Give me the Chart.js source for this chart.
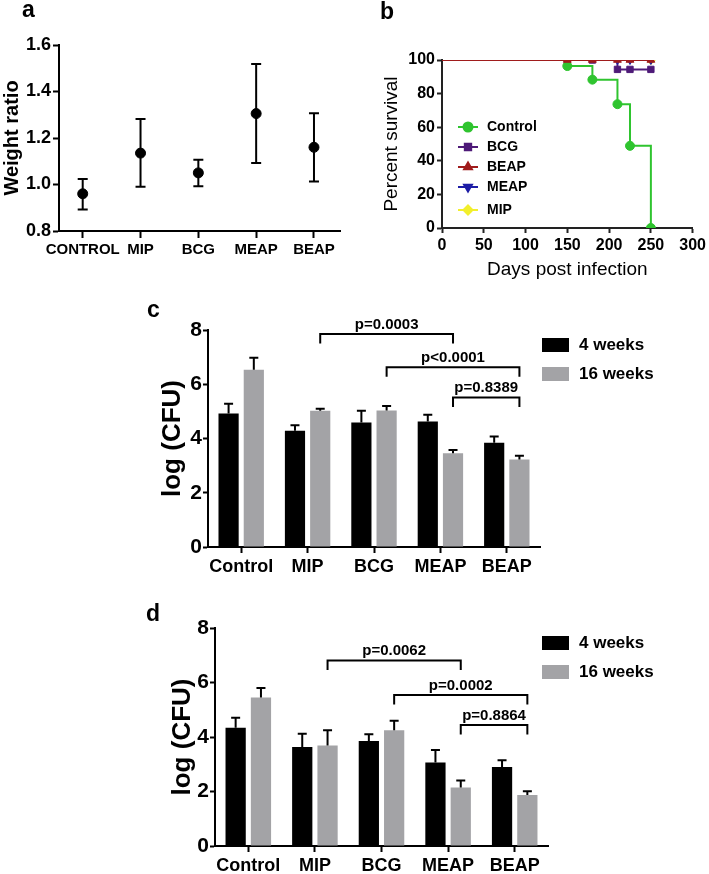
<!DOCTYPE html>
<html>
<head>
<meta charset="utf-8">
<script src="https://cdn.jsdelivr.net/npm/chart.js@4.4.1/dist/chart.umd.min.js"></script>
<style>
  body { margin: 0; background: #fff; }
  #wrap { position: relative; width: 709px; height: 874px; overflow: hidden;
          font-family: "Liberation Sans", Arial, Helvetica, sans-serif; }
  #wrap canvas { position: absolute; }
  .lbl { position: absolute; font-weight: bold; font-size: 23px; line-height: 23px; color: #000; }
</style>
</head>
<body>
<div id="wrap">
  <canvas id="weightChart" width="355" height="290" style="left:0;top:0"></canvas>
  <canvas id="survivalChart" width="349" height="290" style="left:360px;top:0"></canvas>
  <canvas id="cfuChartC" width="569" height="300" style="left:140px;top:290px"></canvas>
  <canvas id="cfuChartD" width="569" height="284" style="left:140px;top:590px"></canvas>
  <div class="lbl" style="left:22px;top:-2px">a</div>
  <div class="lbl" style="left:380px;top:0px">b</div>
  <div class="lbl" style="left:147px;top:298px">c</div>
  <div class="lbl" style="left:146px;top:602px">d</div>
</div>
<script>
Chart.defaults.font.family = '"Liberation Sans", Arial, Helvetica, sans-serif';
Chart.defaults.color = '#000';
Chart.defaults.animation = false;

// panel a data
const groupsA = ['CONTROL', 'MIP', 'BCG', 'MEAP', 'BEAP'];
const weightMean = [0.96, 1.135, 1.05, 1.305, 1.16];
const weightLow = [0.893, 0.99, 0.993, 1.093, 1.013];
const weightHigh = [1.024, 1.282, 1.106, 1.518, 1.306];

// panel b data
const controlDays = [0, 150, 180, 210, 225, 250];
const controlSurv = [100, 96.4, 88.3, 73.7, 48.9, 0];
const bcgDays = [0, 150, 180, 210, 225, 250];
const bcgSurv = [100, 100, 100, 94.4, 94.4, 94.4];
const beapDays = [0, 150, 180, 210, 225, 250];
const beapSurv = [100, 100, 100, 100, 100, 100];
const meapDays = [0, 210, 225, 250];
const meapSurv = [100, 100, 100, 100];
const mipDays = [0, 250];
const mipSurv = [100, 100];

// panels c and d data
const groupsCFU = ['Control', 'MIP', 'BCG', 'MEAP', 'BEAP'];
const weekLabels = ['4 weeks', '16 weeks'];
const cfu4wC = [4.92, 4.29, 4.59, 4.63, 3.84];
const cfu16wC = [6.53, 5.02, 5.03, 3.46, 3.23];
const sem4wC = [0.36, 0.20, 0.43, 0.25, 0.23];
const sem16wC = [0.45, 0.08, 0.17, 0.12, 0.13];
const pTextC = ['p=0.0003', 'p<0.0001', 'p=0.8389'];
const pFromC = [1, 2, 3];
const pToC = [3, 4, 4];
const pLevelC = [7.85, 6.63, 5.51];

const cfu4wD = [4.34, 3.63, 3.85, 3.06, 2.90];
const cfu16wD = [5.45, 3.69, 4.25, 2.15, 1.87];
const sem4wD = [0.37, 0.49, 0.25, 0.46, 0.25];
const sem16wD = [0.35, 0.56, 0.35, 0.25, 0.14];
const pTextD = ['p=0.0062', 'p=0.0002', 'p=0.8864'];
const pFromD = [1, 2, 3];
const pToD = [3, 4, 4];
const pLevelD = [6.81, 5.54, 4.44];

const FONT = '"Liberation Sans", Arial, Helvetica, sans-serif';

// weight ratio chart start
const weightErrorBars = {
  id: 'weightErrorBars',
  beforeDatasetsDraw(chart) {
    const { ctx, scales: { x, y } } = chart;
    ctx.save();
    ctx.strokeStyle = '#000';
    ctx.lineWidth = 2;
    weightMean.forEach((v, i) => {
      const px = x.getPixelForValue(i);
      const top = y.getPixelForValue(weightHigh[i]);
      const bot = y.getPixelForValue(weightLow[i]);
      ctx.beginPath();
      ctx.moveTo(px, top); ctx.lineTo(px, bot);
      ctx.moveTo(px - 5, top); ctx.lineTo(px + 5, top);
      ctx.moveTo(px - 5, bot); ctx.lineTo(px + 5, bot);
      ctx.stroke();
    });
    ctx.restore();
  }
};

new Chart(document.getElementById('weightChart'), {
  type: 'scatter',
  data: {
    datasets: [{
      data: weightMean.map((v, i) => ({ x: i, y: v })),
      pointRadius: 5,
      pointBackgroundColor: '#000',
      pointBorderColor: '#000'
    }]
  },
  options: {
    responsive: false,
    layout: { padding: { top: 45, right: 15, left: 0, bottom: 0 } },
    plugins: { legend: { display: false }, tooltip: { enabled: false } },
    scales: {
      x: {
        type: 'linear', min: -0.41, max: 4.45,
        afterBuildTicks: (s) => { s.ticks = groupsA.map((_, i) => ({ value: i })); },
        afterFit: (s) => { s.height = 59; },
        ticks: { callback: (v) => groupsA[v], autoSkip: false, maxRotation: 0,
                 font: { size: 15, weight: 'bold' }, padding: 3 },
        grid: { drawOnChartArea: false, tickLength: 7, tickWidth: 2, tickColor: '#000' },
        border: { color: '#000', width: 2 }
      },
      y: {
        min: 0.8, max: 1.6,
        afterFit: (s) => { s.width = 59; },
        ticks: { stepSize: 0.2, callback: (v) => v.toFixed(1),
                 font: { size: 18, weight: 'bold' }, padding: 2 },
        grid: { drawOnChartArea: false, tickLength: 6, tickWidth: 2, tickColor: '#000' },
        border: { color: '#000', width: 2 },
        title: { display: true, text: 'Weight ratio', padding: 0,
                 font: { size: 20, weight: 'bold' } }
      }
    }
  },
  plugins: [weightErrorBars]
});
// weight ratio chart end

// survival chart start
function kmSet(label, days, surv, color, style, rot, order) {
  return {
    label: label,
    order: order,
    data: days.map((d, i) => ({ x: d, y: surv[i] })),
    showLine: true,
    stepped: true,
    borderColor: color,
    backgroundColor: color,
    borderWidth: 2,
    pointStyle: style,
    pointRotation: rot,
    pointBackgroundColor: color,
    pointBorderColor: color,
    pointBorderWidth: 1,
    pointRadius: (c) => (c.raw && c.raw.x === 0 ? 0 : 4.5)
  };
}

// order: BEAP line on top, then Control, MEAP, BCG, MIP underneath
const survivalSets = [
  kmSet('Control', controlDays, controlSurv, '#2fc42f', 'circle', 0, 1),
  kmSet('BCG', bcgDays, bcgSurv, '#4e1a78', 'rect', 0, 3),
  kmSet('BEAP', beapDays, beapSurv, '#a01c1c', 'triangle', 0, 0),
  kmSet('MEAP', meapDays, meapSurv, '#1d1da6', 'triangle', 180, 2),
  kmSet('MIP', mipDays, mipSurv, '#f2ef2c', 'rectRot', 0, 4)
];

const survivalLegend = {
  id: 'survivalLegend',
  afterDraw(chart) {
    const { ctx, chartArea } = chart;
    ctx.save();
    survivalSets.forEach((ds, i) => {
      const y = chartArea.top + 67 + i * 20 + (i === 4 ? 3 : 0);
      const x0 = chartArea.left + 16;
      ctx.strokeStyle = ds.borderColor;
      ctx.fillStyle = ds.borderColor;
      ctx.lineWidth = 2;
      ctx.beginPath();
      ctx.moveTo(x0, y); ctx.lineTo(x0 + 20, y);
      ctx.stroke();
      if (Chart.helpers && Chart.helpers.drawPoint) {
        Chart.helpers.drawPoint(ctx, { pointStyle: ds.pointStyle, rotation: ds.pointRotation,
                                       radius: 4.5, borderWidth: 1 }, x0 + 10, y);
      }
      ctx.fillStyle = '#000';
      ctx.font = 'bold 14px ' + FONT;
      ctx.textAlign = 'left';
      ctx.textBaseline = 'middle';
      ctx.fillText(ds.label, x0 + 29, y);
    });
    ctx.restore();
  }
};

new Chart(document.getElementById('survivalChart'), {
  type: 'scatter',
  data: { datasets: survivalSets },
  options: {
    responsive: false,
    layout: { padding: { top: 60, right: 16, left: 0, bottom: 0 } },
    plugins: { legend: { display: false }, tooltip: { enabled: false } },
    scales: {
      x: {
        type: 'linear', min: 0, max: 300,
        afterFit: (s) => { s.height = 62; },
        ticks: { stepSize: 50, font: { size: 16, weight: 'bold' }, padding: 3, maxRotation: 0 },
        grid: { drawOnChartArea: false, tickLength: 5, tickWidth: 2, tickColor: '#222' },
        border: { color: '#222', width: 2 },
        title: { display: true, text: 'Days post infection', padding: { bottom: 9 },
                 font: { size: 19 } }
      },
      y: {
        min: 0, max: 100,
        afterFit: (s) => { s.width = 82; },
        ticks: { stepSize: 20, font: { size: 16, weight: 'bold' }, padding: 2 },
        grid: { drawOnChartArea: false, tickLength: 5, tickWidth: 2, tickColor: '#222' },
        border: { color: '#222', width: 2 },
        title: { display: true, text: 'Percent survival', padding: { top: 20 },
                 font: { size: 19 } }
      }
    }
  },
  plugins: [survivalLegend]
});
// survival chart end

// CFU charts start
function makeCfuChart(id, mean4, mean16, sem4, sem16, pText, pFrom, pTo, pLevel, geo) {
  const cfuExtras = {
    id: 'cfuExtras',
    afterDatasetsDraw(chart) {
      const { ctx } = chart;
      const y = chart.scales.y;
      ctx.save();
      ctx.strokeStyle = '#000';
      ctx.lineWidth = 2;
      // upper error bars
      [[mean4, sem4], [mean16, sem16]].forEach(([means, sems], d) => {
        const meta = chart.getDatasetMeta(d);
        means.forEach((m, i) => {
          const px = meta.data[i].x;
          const base = y.getPixelForValue(m);
          const top = y.getPixelForValue(m + sems[i]);
          ctx.beginPath();
          ctx.moveTo(px, base); ctx.lineTo(px, top);
          ctx.moveTo(px - 4.5, top); ctx.lineTo(px + 4.5, top);
          ctx.stroke();
        });
      });
      // significance brackets over the 16 week bars
      const grey = chart.getDatasetMeta(1);
      ctx.fillStyle = '#000';
      ctx.font = 'bold 15px ' + FONT;
      ctx.textAlign = 'center';
      ctx.textBaseline = 'alphabetic';
      pText.forEach((t, k) => {
        const x1 = grey.data[pFrom[k]].x;
        const x2 = grey.data[pTo[k]].x;
        const yy = y.getPixelForValue(pLevel[k]);
        ctx.beginPath();
        ctx.moveTo(x1, yy + 9.5); ctx.lineTo(x1, yy); ctx.lineTo(x2, yy); ctx.lineTo(x2, yy + 9.5);
        ctx.stroke();
        ctx.fillText(t, (x1 + x2) / 2, yy - 5.5);
      });
      ctx.restore();
    },
    afterDraw(chart) {
      const { ctx } = chart;
      ctx.save();
      ctx.font = 'bold 17px ' + FONT;
      ctx.textAlign = 'left';
      ctx.textBaseline = 'middle';
      chart.data.datasets.forEach((ds, i) => {
        const ry = geo.legendY + i * 29;
        ctx.fillStyle = ds.backgroundColor;
        ctx.fillRect(geo.legendX, ry, 27, 14);
        ctx.fillStyle = '#000';
        ctx.fillText(ds.label, geo.legendX + 37, ry + 7.5);
      });
      ctx.restore();
    }
  };

  return new Chart(document.getElementById(id), {
    type: 'bar',
    data: {
      labels: groupsCFU,
      datasets: [
        { label: weekLabels[0], data: mean4, backgroundColor: '#000000' },
        { label: weekLabels[1], data: mean16, backgroundColor: '#a3a3a6' }
      ]
    },
    options: {
      responsive: false,
      categoryPercentage: 0.76,
      barPercentage: 0.8,
      layout: { padding: { top: geo.padTop, right: geo.padRight, left: 0, bottom: 0 } },
      plugins: { legend: { display: false }, tooltip: { enabled: false } },
      scales: {
        x: {
          afterFit: (s) => { s.height = geo.xHeight; },
          ticks: { font: { size: 18, weight: 'bold' }, padding: 3, maxRotation: 0, autoSkip: false },
          grid: { offset: false, drawOnChartArea: false, tickLength: 6, tickWidth: 2, tickColor: '#000' },
          border: { color: '#000', width: 2 }
        },
        y: {
          min: 0, max: 8,
          afterFit: (s) => { s.width = geo.yWidth; },
          ticks: { stepSize: 2, font: { size: 21, weight: 'bold' }, padding: 1 },
          grid: { drawOnChartArea: false, tickLength: 5, tickWidth: 2, tickColor: '#000' },
          border: { color: '#000', width: 2 },
          title: { display: true, text: 'log (CFU)', padding: { top: geo.titlePad },
                   font: { size: 26, weight: 'bold' } }
        }
      }
    },
    plugins: [cfuExtras]
  });
}

makeCfuChart('cfuChartC', cfu4wC, cfu16wC, sem4wC, sem16wC, pTextC, pFromC, pToC, pLevelC,
  { yWidth: 68, xHeight: 43, padTop: 40, padRight: 169, titlePad: 17, legendX: 402, legendY: 48 });

makeCfuChart('cfuChartD', cfu4wD, cfu16wD, sem4wD, sem16wD, pTextD, pFromD, pToD, pLevelD,
  { yWidth: 75, xHeight: 28, padTop: 38, padRight: 161, titlePad: 27, legendX: 402, legendY: 46 });
// CFU charts end
</script>
</body>
</html>
